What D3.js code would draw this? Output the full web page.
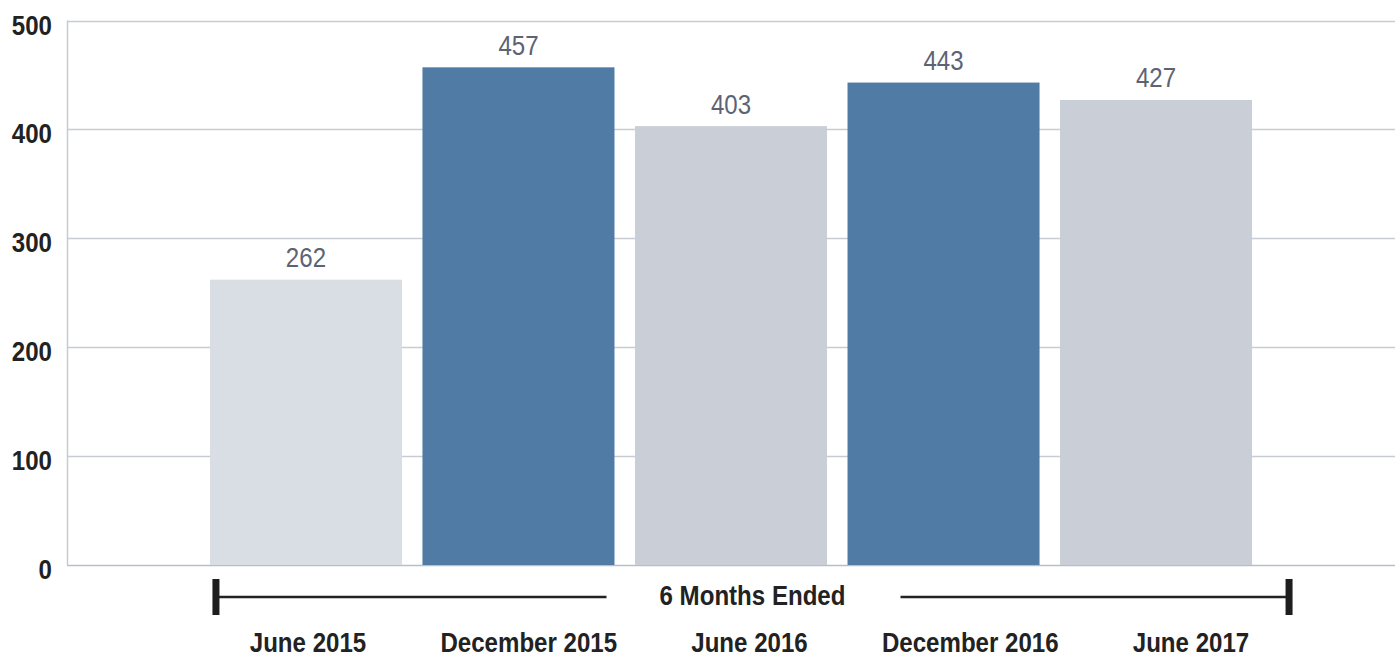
<!DOCTYPE html>
<html>
<head>
<meta charset="utf-8">
<script src="https://cdn.jsdelivr.net/npm/d3@7"></script>
<style>
  body { margin: 0; background: #fff; }
  svg { display: block; }
  text { font-family: "Liberation Sans", Arial, sans-serif; font-size: 28px; }
</style>
</head>
<body>
<svg class="chart" width="1395" height="658"></svg>
<script>
  // data
  const periods = ["June 2015", "December 2015", "June 2016", "December 2016", "June 2017"];
  const counts = [262, 457, 403, 443, 427];
  const barColors = ["#d9dde4", "#4f7ba5", "#c9ced7", "#4f7ba5", "#c9ced7"];
  const yTicks = [0, 100, 200, 300, 400, 500];
  const groupLabel = "6 Months Ended";

  (function draw() {
    const svg = d3.select(".chart");
    const plotLeft = 67, plotRight = 1395, plotTop = 20.5, plotBottom = 565;
    const narrow = 0.86; // fake a condensed face

    const x = d3.scaleBand().domain(periods).range([199.75, 1262.25]).paddingInner(0.0965).paddingOuter(0.048);
    // the period labels sit a bit wider apart than the bars
    const xLabel = d3.scalePoint().domain(periods).range([308, 1191]);
    const y = d3.scaleLinear().domain([0, 500]).range([plotBottom, plotTop]);

    const place = (px, py) => `translate(${px},${py}) scale(${narrow},1)`;

    // gridlines
    svg.append("g")
      .selectAll("line")
      .data(yTicks)
      .enter()
      .append("line")
      .attr("x1", plotLeft)
      .attr("x2", plotRight)
      .attr("y1", (d) => Math.round(y(d)) + 0.5)
      .attr("y2", (d) => Math.round(y(d)) + 0.5)
      .style("stroke", (d) => (d === 0 ? "#b7bec9" : "#c6cbd4"))
      .style("stroke-width", 1.5);

    // left axis line
    svg.append("line")
      .attr("x1", plotLeft + 0.5).attr("x2", plotLeft + 0.5)
      .attr("y1", plotTop).attr("y2", plotBottom)
      .style("stroke", "#c6cbd4").style("stroke-width", 1.5);

    // tick labels
    svg.append("g")
      .selectAll("text")
      .data(yTicks)
      .enter()
      .append("text")
      .attr("transform", (d) => place(52, y(d) + 14))
      .attr("text-anchor", "end")
      .style("font-weight", "bold")
      .style("fill", "#222")
      .text((d) => d);

    // bars
    svg.append("g")
      .selectAll("rect")
      .data(periods)
      .enter()
      .append("rect")
      .attr("x", (d) => x(d))
      .attr("width", x.bandwidth())
      .attr("y", (d, i) => y(counts[i]))
      .attr("height", (d, i) => y(0) - y(counts[i]))
      .style("fill", (d, i) => barColors[i]);

    // value labels
    svg.append("g")
      .selectAll("text")
      .data(periods)
      .enter()
      .append("text")
      .attr("transform", (d, i) => place(x(d) + x.bandwidth() / 2, y(counts[i]) - 12.5))
      .attr("text-anchor", "middle")
      .style("fill", "#5d6372")
      .text((d, i) => counts[i]);

    // category labels
    svg.append("g")
      .selectAll("text")
      .data(periods)
      .enter()
      .append("text")
      .attr("transform", (d) => place(xLabel(d), 652))
      .attr("text-anchor", "middle")
      .style("font-weight", "bold")
      .style("fill", "#222")
      .text((d) => d);

    // "6 Months Ended" bracket
    const bx1 = x(periods[0]) + 6, bx2 = x(periods[periods.length - 1]) + x.bandwidth() + 37;
    const by = 597, mid = (bx1 + bx2) / 2;
    const br = svg.append("g");
    br.append("line").attr("x1", bx1).attr("x2", mid - 146).attr("y1", by).attr("y2", by)
      .style("stroke", "#222").style("stroke-width", 2.5);
    br.append("line").attr("x1", mid + 148).attr("x2", bx2).attr("y1", by).attr("y2", by)
      .style("stroke", "#222").style("stroke-width", 2.5);
    br.selectAll("rect")
      .data([bx1, bx2])
      .enter()
      .append("rect")
      .attr("x", (d) => d - 3.5)
      .attr("y", 579)
      .attr("width", 7)
      .attr("height", 36)
      .style("fill", "#1e1e1e");
    br.append("text")
      .attr("transform", place(mid, 605))
      .attr("text-anchor", "middle")
      .style("font-weight", "bold")
      .style("fill", "#222")
      .text(groupLabel);
  })();
</script>
</body>
</html>
